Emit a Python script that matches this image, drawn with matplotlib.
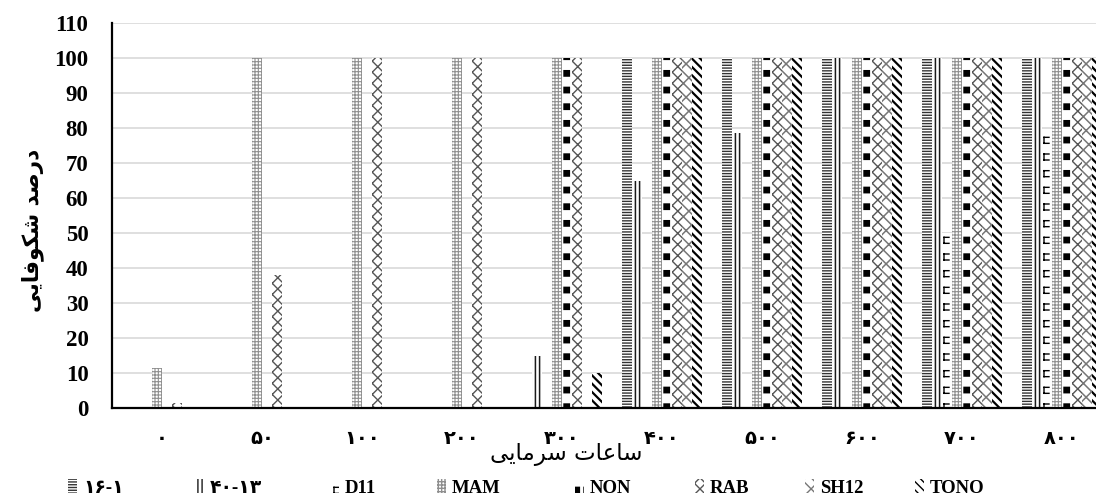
import numpy as np
import matplotlib
matplotlib.use('Agg')
import matplotlib.pyplot as plt
import matplotlib.hatch as mhatch
from matplotlib.path import Path
from matplotlib.font_manager import FontProperties

categories = ['۰', '۵۰', '۱۰۰', '۲۰۰', '۳۰۰', '۴۰۰', '۵۰۰', '۶۰۰', '۷۰۰', '۸۰۰']
series = ['۱۶-۱', '۴۰-۱۳', 'D11', 'MAM', 'NON', 'RAB', 'SH12', 'TONO']
v_16_1 = [0, 0, 0, 0, 0, 100, 100, 100, 100, 100]
v_40_13 = [0, 0, 0, 0, 15, 65, 78.5, 100, 100, 100]
v_d11 = [0, 0, 0, 0, 0, 0, 0, 0, 50, 78.5]
v_mam = [11.5, 100, 100, 100, 100, 100, 100, 100, 100, 100]
v_non = [0, 0, 0, 0, 100, 100, 100, 100, 100, 100]
v_rab = [1.5, 38, 100, 100, 100, 100, 100, 100, 100, 100]
v_sh12 = [0, 0, 0, 0, 0, 100, 100, 100, 100, 100]
v_tono = [0, 0, 0, 0, 10, 100, 100, 100, 100, 100]
values = [v_16_1, v_40_13, v_d11, v_mam, v_non, v_rab, v_sh12, v_tono]

x_title = 'ساعات سرمایی'
y_title = 'درصد شکوفایی'

# hatch pattern, hatch colour, hatch linewidth per series
styles = [('------', '#333333', 1.0), ('||||', '#1a1a1a', 1.1), ('O', '#000000', 1.0),
          ('+++++', '#8f8f8f', 0.8), ('*', '#000000', 1.0), ('xxx', '#555555', 1.0),
          ('//\\\\\\', '#777777', 1.1), ('\\\\\\\\', '#000000', 1.6)]

# --- simple arabic/persian shaping (matplotlib has no shaping / bidi) ---
FORMS = {
    'ا': ('\uFE8D', '\uFE8E', None, None),
    'د': ('\uFEA9', '\uFEAA', None, None),
    'ر': ('\uFEAD', '\uFEAE', None, None),
    'و': ('\uFEED', '\uFEEE', None, None),
    'ت': ('\uFE95', '\uFE96', '\uFE97', '\uFE98'),
    'س': ('\uFEB1', '\uFEB2', '\uFEB3', '\uFEB4'),
    'ش': ('\uFEB5', '\uFEB6', '\uFEB7', '\uFEB8'),
    'ص': ('\uFEB9', '\uFEBA', '\uFEBB', '\uFEBC'),
    'ع': ('\uFEC9', '\uFECA', '\uFECB', '\uFECC'),
    'ف': ('\uFED1', '\uFED2', '\uFED3', '\uFED4'),
    'م': ('\uFEE1', '\uFEE2', '\uFEE3', '\uFEE4'),
    'ک': ('\uFB8E', '\uFB8F', '\uFB90', '\uFB91'),
    'ی': ('\uFBFC', '\uFBFD', '\uFBFE', '\uFBFF'),
}


def shape(text):
    out = []
    for i, ch in enumerate(text):
        if ch not in FORMS:
            out.append(ch)
            continue
        prev = text[i - 1] if i > 0 else ''
        nxt = text[i + 1] if i + 1 < len(text) else ''
        iso, fin, ini, med = FORMS[ch]
        jp = prev in FORMS and FORMS[prev][2] is not None
        jn = ini is not None and nxt in FORMS
        if jp and jn:
            out.append(med)
        elif jp:
            out.append(fin)
        elif jn:
            out.append(ini)
        else:
            out.append(iso)
    return ''.join(reversed(out))


# --- two extra hatch patterns (squares, brackets) on a 100px tile ---
class TileHatch(mhatch.HatchPatternBase):
    key = None
    verts = np.zeros((0, 2))
    codes = np.zeros(0, dtype=Path.code_type)

    def __init__(self, hatch, density):
        self.num_vertices = len(self.verts) if self.key in hatch else 0

    def set_vertices_and_codes(self, vertices, codes):
        vertices[:, 0] = self.verts[:, 0] / 100.0
        vertices[:, 1] = 1.0 - self.verts[:, 1] / 100.0
        codes[:] = self.codes


def make_squares():
    vs, cs = [], []
    for col in range(10):
        for row in range(6):
            x0 = col * 10 + 4.0
            y0 = row * 100 / 6 + 4
            d = 5.4
            vs += [(x0, y0), (x0 + d, y0), (x0 + d, y0 + d), (x0, y0 + d), (x0, y0)]
            cs += [Path.MOVETO, Path.LINETO, Path.LINETO, Path.LINETO, Path.CLOSEPOLY]
    return np.array(vs, float), np.array(cs, dtype=Path.code_type)


def make_brackets():
    vs, cs = [], []
    for col in range(10):
        for row in range(6):
            x0 = col * 10 + 4.0
            x1 = x0 + 5.0
            y0 = row * 100 / 6 + 4
            y1 = y0 + 6.0
            vs += [(x1, y0), (x0, y0), (x0, y0), (x0, y1), (x0, y1), (x1, y1)]
            cs += [Path.MOVETO, Path.LINETO] * 3
    return np.array(vs, float), np.array(cs, dtype=Path.code_type)


class SquareHatch(TileHatch):
    key = '*'
    verts, codes = make_squares()


class BracketHatch(TileHatch):
    key = 'O'
    verts, codes = make_brackets()


mhatch._hatch_types[:] = [h for h in mhatch._hatch_types
                          if h not in (mhatch.Stars, mhatch.LargeCircles)]
mhatch._hatch_types += [SquareHatch, BracketHatch]

fig = plt.figure(figsize=(10.96, 4.96), dpi=100)
ax = fig.add_axes([112 / 1096, 88 / 496, 1000 / 1096, 385 / 496])

x = np.arange(len(categories))
bw = 0.1
bars = []
for j, (name, vals) in enumerate(zip(series, values)):
    hatch, col, hlw = styles[j]
    with plt.rc_context({'hatch.linewidth': hlw}):
        b = ax.bar(x + (j - 3.5) * bw, vals, bw, color='white', edgecolor=col,
                   hatch=hatch, linewidth=0, label=name)
    for p in b:
        if hasattr(p, 'set_hatch_linewidth'):
            p.set_hatch_linewidth(hlw)
    bars.append(b)

ax.set_xlim(-0.5, len(categories) - 0.5)
ax.set_ylim(0, 110)
ax.set_yticks(np.arange(0, 111, 10))
ax.yaxis.grid(True, color='#d9d9d9', linewidth=1.2)
ax.set_axisbelow(True)
for s in ['top', 'right']:
    ax.spines[s].set_visible(False)
ax.spines['left'].set_linewidth(1.6)
ax.spines['bottom'].set_linewidth(1.6)

ax.tick_params(axis='y', length=0, pad=17)
for lab in ax.get_yticklabels():
    lab.set_fontfamily('Liberation Serif')
    lab.set_fontweight('bold')
    lab.set_fontsize(16.5)

ax.set_xticks(x)
ax.set_xticklabels(categories, fontfamily='DejaVu Sans', fontweight='bold', fontsize=14)
ax.tick_params(axis='x', length=0, pad=15)

fig.text(566 / 1096, 1 - 455 / 496, shape(x_title), ha='center', va='center',
         fontsize=16.5, family='DejaVu Sans')
fig.text(33 / 1096, 1 - 230 / 496, shape(y_title), ha='center', va='center',
         rotation=90, fontsize=15.5, family='DejaVu Sans', fontweight='bold')

leg_x = [68, 195, 330, 437, 575, 695, 805, 915]
prop = FontProperties(family=['Liberation Serif', 'DejaVu Sans'], weight='bold', size=13.5)
for j, b in enumerate(bars):
    fig.legend([b], [series[j]], loc='center left',
               bbox_to_anchor=(leg_x[j] / 1096, 1 - 488 / 496),
               frameon=False, prop=prop, handlelength=0.5, handleheight=0.7,
               handletextpad=0.3, borderpad=0, borderaxespad=0)

fig.savefig('out.png', dpi=100)
